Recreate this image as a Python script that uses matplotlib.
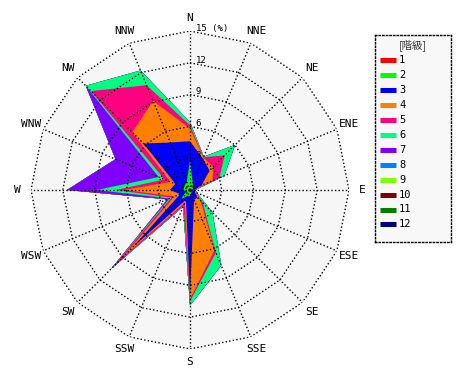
import numpy as np
import matplotlib
matplotlib.use('Agg')
import matplotlib.pyplot as plt

directions = ['N', 'NNE', 'NE', 'ENE', 'E', 'ESE', 'SE', 'SSE',
              'S', 'SSW', 'SW', 'WSW', 'W', 'WNW', 'NW', 'NNW']
class_labels = ['1', '2', '3', '4', '5', '6', '7', '8', '9', '10', '11', '12']
class_colors = ['#ff0000', '#00ff00', '#0000ff', '#ff8000', '#ff0080', '#00ff80',
                '#8000ff', '#0080ff', '#80ff00', '#800000', '#008000', '#000080']
ring_values = [3, 6, 9, 12, 15]
ring_labels = ['3', '6', '9', '12', '15 (%)']

# frequency (%) per class and direction (N, NNE, ..., NNW)
c1 = [0.1, 0.1, 0.1, 0.1, 0.05, 0.05, 0.05, 0.1, 0.1, 0.1, 0.2, 0.1, 0.1, 0.1, 0.1, 0.1]
c2 = [2.7, 0.6, 0.3, 0.2, 0.1, 0.1, 0.15, 0.2, 0.5, 0.5, 1.1, 0.3, 0.5, 0.5, 0.6, 0.7]
c3 = [1.8, 2.5, 2.2, 0.9, 0.25, 0.35, 0.8, 0.7, 9.4, 0.4, 6.4, 0.6, 1.3, 0.9, 5.5, 4.05]
c4 = [1.2, 0.1, 0.5, 1.1, 0.05, 0.1, 0.4, 5.1, 0.3, 0.3, 1.3, 0.6, 4.3, 0.5, 1.5, 4.25]
c5 = [0.3, 0.05, 1.5, 0.7, 0.05, 0.05, 0.3, 0.3, 0.2, 0.3, 1.4, 0.3, 0.8, 0.6, 5.5, 1.6]
c6 = [0.3, 0.05, 1.4, 0.5, 0.0, 0.05, 1.3, 1.3, 0.4, 0.1, 0.1, 0.2, 1.8, 0.6, 0.7, 1.5]
c7 = [0, 0, 0, 0, 0, 0, 0, 0, 0, 0, 0, 0.2, 2.8, 4.4, 0, 0]
c8 = [0] * 16
c9 = [0] * 16
c10 = [0] * 16
c11 = [0] * 16
c12 = [0] * 16

series = [c1, c2, c3, c4, c5, c6, c7, c8, c9, c10, c11, c12]
cum = np.cumsum(np.array(series, dtype=float), axis=0)

W, H = 470, 380
fig = plt.figure(figsize=(W / 100, H / 100), dpi=100)
fig.patch.set_facecolor('white')

cx, cy, R = 190, 190, 159
ax = fig.add_axes([(cx - R) / W, (H - cy - R) / H, 2 * R / W, 2 * R / H],
                  projection='polar')
ax.set_theta_zero_location('N')
ax.set_theta_direction(-1)
ax.set_ylim(0, 15)
ax.grid(False)
ax.set_xticks([])
ax.set_yticks([])
ax.spines['polar'].set_visible(False)
ax.patch.set_alpha(0)

theta = np.deg2rad(np.arange(16) * 22.5)
theta_c = np.append(theta, theta[0])

# grey background polygon
ax.fill(theta_c, np.full(17, 15.0), color='#f6f6f6', zorder=0, lw=0)

# stacked fills, outermost first
for k in range(11, -1, -1):
    r = np.append(cum[k], cum[k][0])
    ax.fill(theta_c, r, color=class_colors[k], lw=0, zorder=1 + (11 - k) * 0.01)

# dotted polygon grid
dot = (0, (1, 1.6))
for v in ring_values:
    ax.plot(theta_c, np.full(17, v), color='black', lw=1.0, ls=dot, zorder=3)
for t in theta:
    ax.plot([t, t], [0, 15], color='black', lw=1.0, ls=dot, zorder=3)

mono = 'DejaVu Sans Mono'
for v, lab in zip(ring_values, ring_labels):
    ax.annotate(lab, xy=(0, v), xytext=(4, 2), textcoords='offset points',
                ha='left', va='center', fontsize=6.5, family=mono, zorder=4)

for t, d in zip(theta, directions):
    ax.text(t, 16.25, d, ha='center', va='center', fontsize=8, family=mono,
            clip_on=False)

# legend box
lx0, ly0, lw_, lh_ = 375, 35, 76, 207
lax = fig.add_axes([lx0 / W, (H - ly0 - lh_) / H, lw_ / W, lh_ / H])
lax.set_xlim(0, lw_)
lax.set_ylim(lh_, 0)
lax.set_facecolor('#f8f8f8')
lax.set_xticks([])
lax.set_yticks([])
for s in lax.spines.values():
    s.set_linestyle((0, (1, 1.6)))
    s.set_linewidth(1.0)
    s.set_color('black')
lax.text(lw_ / 2, 10, '[階級]', ha='center', va='center', fontsize=7.5,
         family=['Noto Sans CJK JP', 'DejaVu Sans'], color='#333333')
for i, (lab, col) in enumerate(zip(class_labels, class_colors)):
    y = 25 + i * 14.95
    lax.plot([5, 21], [y, y], color=col, lw=3.6, solid_capstyle='butt')
    lax.text(24, y, lab, ha='left', va='center', fontsize=7.5, family=mono)

fig.savefig('out.png', dpi=100, facecolor='white')
